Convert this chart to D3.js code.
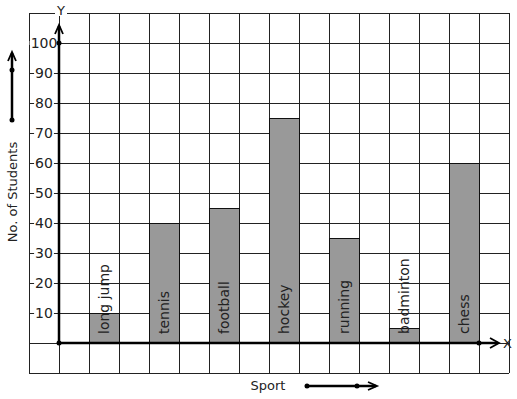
<!DOCTYPE html>
<html>
<head>
<meta charset="utf-8">
<script src="https://cdn.jsdelivr.net/npm/d3@7/dist/d3.min.js"></script>
<style>
  html, body { margin: 0; padding: 0; background: #fff; }
  svg { display: block; font-family: "DejaVu Sans", sans-serif; }
</style>
</head>
<body>
<div id="chart"></div>
<script>
const W = 517, H = 399;
const SPORTS = ["long jump", "tennis", "football", "hockey", "running", "badminton", "chess"];
const STUDENTS = [10, 40, 45, 75, 35, 5, 60];
const Y_TICKS = [10, 20, 30, 40, 50, 60, 70, 80, 90, 100];

const svg = d3.select("#chart").append("svg").attr("width", W).attr("height", H);

// y: 10 students per grid cell (30px)
const y = d3.scaleLinear().domain([0, 100]).range([343, 43]);
// grid columns, one unit per 30px, origin at the y axis
const gx = d3.scaleLinear().domain([0, 1]).range([59, 89]);
const x = d3.scaleBand().domain(SPORTS).range([74, 494]).paddingInner(0.5).paddingOuter(0.25);

const grid = svg.append("g").attr("stroke", "#222").attr("stroke-width", 1).attr("shape-rendering", "crispEdges");
grid.selectAll("line.v").data(d3.range(-1, 16)).join("line").attr("class", "v")
  .attr("x1", (d) => gx(d)).attr("x2", (d) => gx(d)).attr("y1", y(110)).attr("y2", y(-10));
grid.selectAll("line.h").data(d3.range(-10, 111, 10)).join("line").attr("class", "h")
  .attr("x1", gx(-1)).attr("x2", gx(15)).attr("y1", (d) => y(d)).attr("y2", (d) => y(d));

// bars
svg.append("g").selectAll("rect").data(SPORTS).join("rect")
  .attr("x", (d) => x(d)).attr("width", x.bandwidth())
  .attr("y", (d, i) => y(STUDENTS[i])).attr("height", (d, i) => y(0) - y(STUDENTS[i]))
  .attr("fill", "#999").attr("stroke", "#111").attr("stroke-width", 1).attr("shape-rendering", "crispEdges");

// bar labels
svg.append("g").selectAll("text").data(SPORTS).join("text")
  .attr("transform", (d) => `translate(${x(d) + x.bandwidth() / 2 + 5},${y(0) - 9}) rotate(-90)`)
  .attr("font-size", 14).attr("fill", "#222").text((d) => d);

// tick labels with white backing
const ticks = svg.append("g");
Y_TICKS.forEach((v) => {
  const t = ticks.append("text").attr("x", 44).attr("y", y(v) + 5)
    .attr("text-anchor", "middle").attr("font-size", 14).attr("fill", "#222").text(v);
  const b = t.node().getBBox();
  ticks.insert("rect", "text").attr("x", b.x - 1).attr("y", y(v) - 2).attr("width", b.width + 2).attr("height", 4).attr("fill", "#fff");
});

// axes
const ax = svg.append("g").attr("stroke", "#000").attr("fill", "none");
ax.append("line").attr("x1", gx(0)).attr("x2", gx(0)).attr("y1", y(0)).attr("y2", 26).attr("stroke-width", 2.5);
ax.append("line").attr("x1", gx(0)).attr("x2", 498).attr("y1", y(0)).attr("y2", y(0)).attr("stroke-width", 2.5);
ax.append("path").attr("d", `M${gx(0) - 4},34 L${gx(0)},25 L${gx(0) + 4},34`).attr("stroke-width", 1.8);
ax.append("path").attr("d", `M490,${y(0) - 5} L499,${y(0)} L490,${y(0) + 5}`).attr("stroke-width", 1.8);
const dots = svg.append("g").attr("fill", "#000");
[[gx(0), y(0)], [gx(0), y(100)], [479, y(0)]].forEach(([cx, cy]) => dots.append("circle").attr("cx", cx).attr("cy", cy).attr("r", 2.5));

// axis letters with white backing
svg.append("rect").attr("x", 55).attr("y", 10).attr("width", 12).attr("height", 6).attr("fill", "#fff");
svg.append("text").attr("x", 61).attr("y", 15).attr("text-anchor", "middle").attr("font-size", 13).attr("fill", "#222").text("Y");
svg.append("text").attr("x", 503).attr("y", y(0) + 5).attr("font-size", 13).attr("fill", "#222").text("X");

// axis titles
svg.append("text").attr("transform", "translate(17,192) rotate(-90)").attr("text-anchor", "middle")
  .attr("font-size", 13).attr("fill", "#222").text("No. of Students");
svg.append("text").attr("x", 268).attr("y", 390).attr("text-anchor", "middle")
  .attr("font-size", 13).attr("fill", "#222").text("Sport");

// direction arrows
const da = svg.append("g").attr("stroke", "#000").attr("fill", "none");
da.append("line").attr("x1", 12).attr("x2", 12).attr("y1", 120).attr("y2", 53).attr("stroke-width", 2.5);
da.append("path").attr("d", "M8,61 L12,52 L16,61").attr("stroke-width", 1.8);
da.append("line").attr("x1", 307).attr("x2", 376).attr("y1", 386).attr("y2", 386).attr("stroke-width", 2.5);
da.append("path").attr("d", "M368,382 L377,386 L368,390").attr("stroke-width", 1.8);
[[12, 120], [12, 70], [307, 386], [357, 386]].forEach(([cx, cy]) => dots.append("circle").attr("cx", cx).attr("cy", cy).attr("r", 2.5));
</script>
</body>
</html>
